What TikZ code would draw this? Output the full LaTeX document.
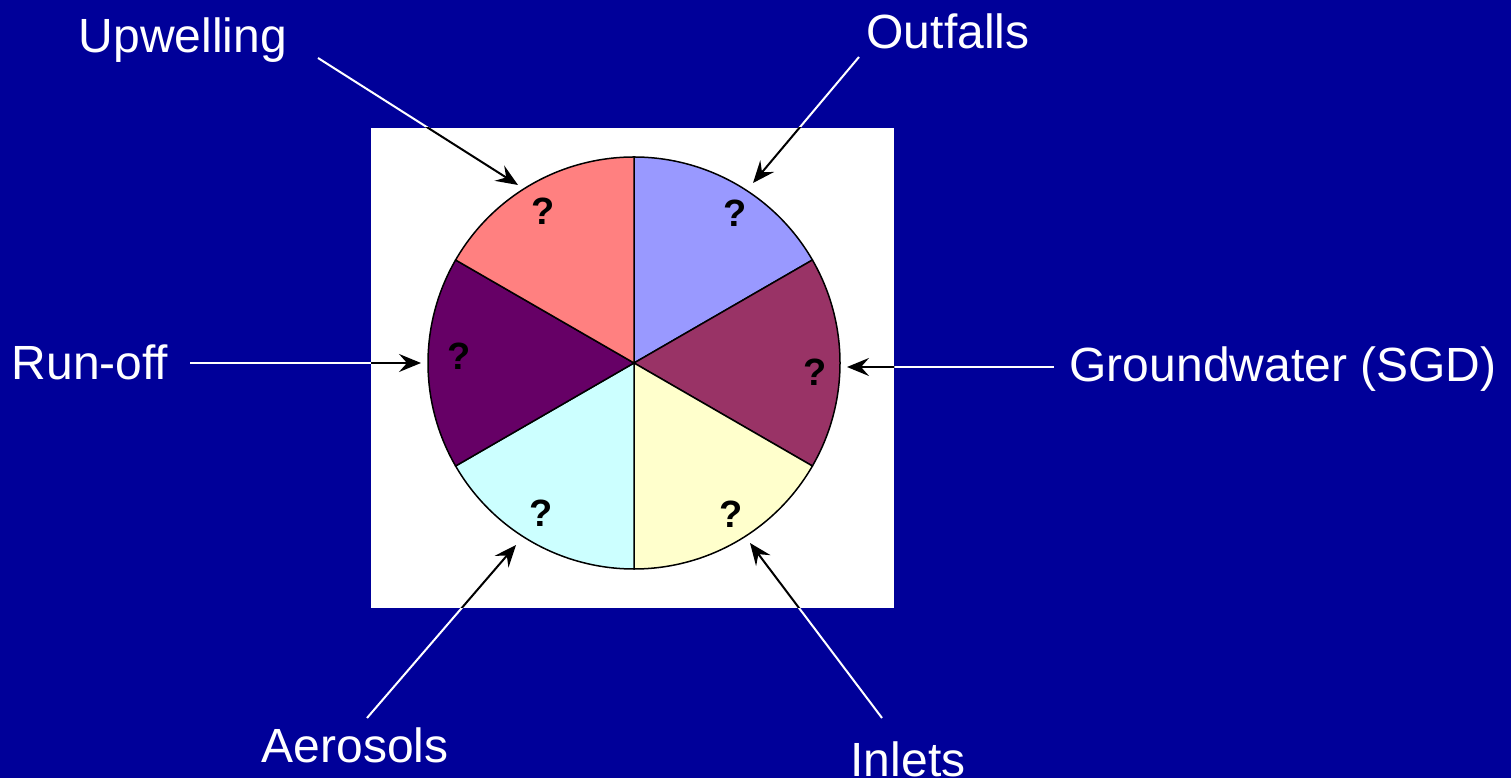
\documentclass[tikz,border=0pt]{standalone}
\usepackage{fontspec}
\setmainfont{Liberation Sans}
\usetikzlibrary{arrows.meta}
\definecolor{bgblue}{HTML}{000099}
\definecolor{cA}{HTML}{9999FF}
\definecolor{cB}{HTML}{993366}
\definecolor{cC}{HTML}{FFFFCC}
\definecolor{cD}{HTML}{CCFFFF}
\definecolor{cE}{HTML}{660066}
\definecolor{cF}{HTML}{FF8080}
\tikzset{
  lbl/.style={text=white, font=\fontsize{48}{56}\selectfont, inner sep=0pt},
  qm/.style={text=black, font=\fontsize{38}{42}\selectfont\bfseries, inner sep=0pt},
  slice/.style={draw=black, line width=1.5pt},
  wline/.style={draw=white, line width=2pt},
  bline/.style={draw=black, line width=2pt, -{Stealth[length=22pt, width=18pt, inset=8pt]}}
}
\begin{document}
\begin{tikzpicture}[x=1pt, y=1pt]
\fill[bgblue] (0,0) rectangle (1511,778);
\useasboundingbox (0,0) rectangle (1511,778);
\node[fill=white, minimum width=523pt, minimum height=480pt, inner sep=0pt, anchor=south west] (frame) at (371,170) {};
% pie
\begin{scope}[shift={(634,415)}]
\filldraw[fill=cA, slice] (0,0) -- (90:206) arc[start angle=90, end angle=30, radius=206] -- cycle;
\filldraw[fill=cB, slice] (0,0) -- (30:206) arc[start angle=30, end angle=-30, radius=206] -- cycle;
\filldraw[fill=cC, slice] (0,0) -- (-30:206) arc[start angle=-30, end angle=-90, radius=206] -- cycle;
\filldraw[fill=cD, slice] (0,0) -- (-90:206) arc[start angle=-90, end angle=-150, radius=206] -- cycle;
\filldraw[fill=cE, slice] (0,0) -- (-150:206) arc[start angle=-150, end angle=-210, radius=206] -- cycle;
\filldraw[fill=cF, slice] (0,0) -- (150:206) arc[start angle=150, end angle=90, radius=206] -- cycle;
\end{scope}
% question marks
\node[qm] (q1) at (735,565) {?};
\node[qm] (q2) at (815,406) {?};
\node[qm] (q3) at (731,264) {?};
\node[qm] (q4) at (541,265) {?};
\node[qm] (q5) at (459,422) {?};
\node[qm] (q6) at (543,567) {?};
% labels
\node[lbl] (up) at (183,738) {Upwelling};
\node[lbl] (out) at (948,747) {Outfalls};
\node[lbl] (run) at (90,416) {Run-off};
\node[lbl] (gw) at (1283,409) {Groundwater (SGD)};
\node[lbl] (aer) at (355,33) {Aerosols};
\node[lbl] (inl) at (908,19) {Inlets};
% arrow ends
\coordinate (upS) at (318,720);  \coordinate (upE) at (518,593);
\coordinate (outS) at (859,721); \coordinate (outE) at (753,595);
\coordinate (runS) at (190,415); \coordinate (runE) at (421,415);
\coordinate (gwS) at (1054,411); \coordinate (gwE) at (847,411);
\coordinate (aerS) at (367,60);  \coordinate (aerE) at (516,233);
\coordinate (inlS) at (882,60);  \coordinate (inlE) at (750,235);
\foreach \n in {up,out,run,gw,aer,inl}{
  \draw[wline] (\n S) -- (\n E);
}
\begin{scope}
\clip (frame.south west) rectangle (frame.north east);
\foreach \n in {up,out,run,gw,aer,inl}{
  \draw[bline] (\n S) -- (\n E);
}
\end{scope}
\end{tikzpicture}
\end{document}
